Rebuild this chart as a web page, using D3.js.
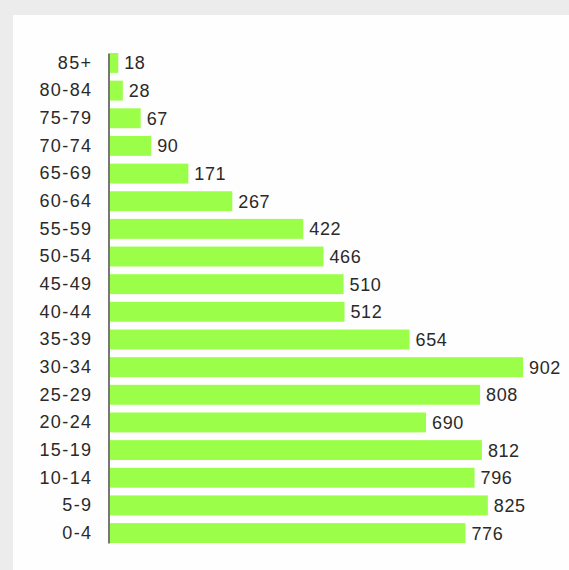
<!DOCTYPE html>
<html>
<head>
<meta charset="utf-8">
<script src="https://cdn.jsdelivr.net/npm/d3@7"></script>
<style>
  body { margin: 0; background: #ececec; }
  svg { display: block; }
  text { font-family: "Liberation Sans", Arial, sans-serif; fill: #2a2a2a; }
</style>
</head>
<body>
<svg id="chart" width="569" height="570"></svg>
<script>
/* age groups, top to bottom */
var ageGroups = ["85+", "80-84", "75-79", "70-74", "65-69", "60-64", "55-59", "50-54", "45-49",
                 "40-44", "35-39", "30-34", "25-29", "20-24", "15-19", "10-14", "5-9", "0-4"];
var counts = [18, 28, 67, 90, 171, 267, 422, 466, 510, 512, 654, 902, 808, 690, 812, 796, 825, 776];

var rows = ageGroups.map(function (g, i) { return { group: g, value: counts[i] }; });

var svg = d3.select("#chart");

// white panel
svg.append("rect").attr("x", 13).attr("y", 15).attr("width", 556).attr("height", 555).attr("fill", "#fefefe");

var y = d3.scaleBand().domain(ageGroups).range([53, 543]).paddingInner(0.28).paddingOuter(0);
var x = d3.scaleLinear().domain([0, 1000]).range([110, 568]);

/******** bars ********/
svg.selectAll(".bar").data(rows).enter().append("rect")
    .attr("class", "bar")
    .attr("x", x(0))
    .attr("y", function (d) { return y(d.group); })
    .attr("width", function (d) { return x(d.value) - x(0); })
    .attr("height", y.bandwidth())
    .attr("fill", "#9bff4a");

/******** value labels ********/
svg.selectAll(".val").data(rows).enter().append("text")
    .attr("class", "val")
    .attr("x", function (d) { return x(d.value) + 6; })
    .attr("y", function (d) { return y(d.group) + y.bandwidth() / 2; })
    .attr("dy", "0.36em")
    .style("font-size", "18px")
    .style("letter-spacing", "0.6px")
    .text(function (d) { return d.value; });

/******** category axis ********/
var axis = svg.append("g")
    .attr("transform", "translate(108.5,0)")
    .call(d3.axisLeft(y).tickSize(0).tickPadding(16));
axis.select(".domain").attr("stroke", "#555").attr("stroke-width", 1.6);
axis.selectAll("text")
    .attr("fill", "#2a2a2a")
    .style("font-family", "'Liberation Sans', Arial, sans-serif")
    .style("font-size", "18px")
    .style("letter-spacing", "1.4px");
</script>
</body>
</html>
